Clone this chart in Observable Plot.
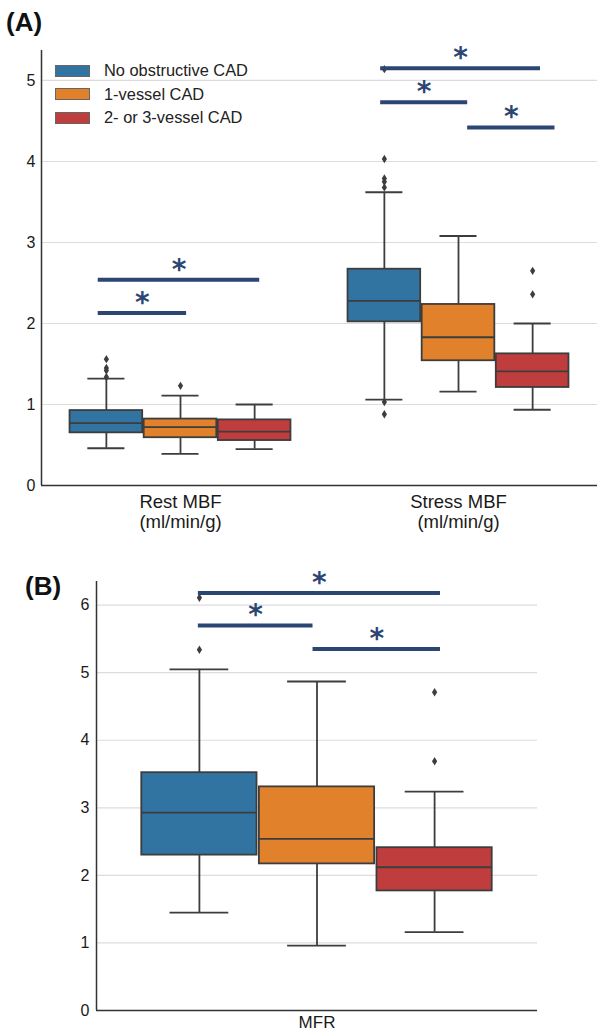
<!DOCTYPE html>
<html><head><meta charset="utf-8">
<script src="https://cdn.jsdelivr.net/npm/d3@7"></script>
<script src="https://cdn.jsdelivr.net/npm/@observablehq/plot@0.6"></script>
<style>
body{margin:0;background:#fff;font-family:"Liberation Sans",Arial,sans-serif;}
#wrap{position:relative;width:597px;height:1031px;overflow:hidden;background:#fff;}
.panel{position:absolute;left:0;}
.panel svg{overflow:visible;}
.tag{position:absolute;font-weight:bold;font-size:26px;line-height:26px;color:#111;}
.legend{position:absolute;left:55px;top:59px;font-size:16.4px;color:#222;}
.legend .row{display:flex;align-items:center;height:23.5px;}
.legend .sw{width:35px;height:12px;border:1px solid #666;box-sizing:border-box;margin-right:14px;}
</style></head>
<body><div id="wrap"></div>
<script>
// ---- data ----
const groups = ["No obstructive CAD", "1-vessel CAD", "2- or 3-vessel CAD"];
const groupColors = ["#3274a1", "#e1812c", "#c03d3e"];

const categoriesA = ["Rest MBF\n(ml/min/g)", "Stress MBF\n(ml/min/g)"];
const yTicksA = [0, 1, 2, 3, 4, 5];

const restQ1 = [0.65, 0.59, 0.555];
const restMedian = [0.77, 0.72, 0.665];
const restQ3 = [0.925, 0.82, 0.81];
const restLow = [0.46, 0.39, 0.45];
const restHigh = [1.32, 1.11, 1.0];
const restOutliers = [[1.34, 1.42, 1.45, 1.56], [1.23], []];

const stressQ1 = [2.02, 1.54, 1.21];
const stressMedian = [2.28, 1.83, 1.41];
const stressQ3 = [2.67, 2.235, 1.625];
const stressLow = [1.06, 1.16, 0.935];
const stressHigh = [3.62, 3.08, 2.0];
const stressOutliers = [[5.14, 4.03, 3.79, 3.75, 3.68, 1.03, 0.88], [], [2.65, 2.36]];

const categoriesB = ["MFR"];
const yTicksB = [0, 1, 2, 3, 4, 5, 6];
const mfrQ1 = [2.30, 2.17, 1.77];
const mfrMedian = [2.93, 2.54, 2.12];
const mfrQ3 = [3.52, 3.31, 2.41];
const mfrLow = [1.45, 0.96, 1.16];
const mfrHigh = [5.05, 4.87, 3.24];
const mfrOutliers = [[5.34, 6.11], [], [3.69, 4.71]];

// significance brackets (x in category units, y in value units)
const sigA_x1 = [-0.296, -0.296, 0.72, 0.72, 1.033];
const sigA_x2 = [0.022, 0.285, 1.295, 1.033, 1.347];
const sigA_y = [2.13, 2.54, 5.15, 4.73, 4.42];
const sigB_x1 = [-0.269, -0.269, -0.009];
const sigB_x2 = [0.280, -0.009, 0.280];
const sigB_y = [6.18, 5.70, 5.35];
const sigLabel = "*";

// ---- helpers ----
const BOXW = 0.8 / 3;
const edge = "#3d3d3d";
const sigColor = "#2b4672";
const font = "'Liberation Sans', Arial, sans-serif";

function buildBoxes(catIndex, q1, med, q3, lo, hi, outs) {
  const rows = [], pts = [];
  groups.forEach((g, i) => {
    const x = catIndex + (i - 1) * BOXW;
    rows.push({x, q1: q1[i], med: med[i], q3: q3[i], lo: lo[i], hi: hi[i], color: groupColors[i]});
    outs[i].forEach(v => pts.push({x, y: v}));
  });
  return {rows, pts};
}
function sigRows(x1, x2, y) { return y.map((v, i) => ({x1: x1[i], x2: x2[i], y: v})); }

const thinDiamond = {
  draw(ctx, size) {
    const r = Math.sqrt(size / Math.PI), w = r * 0.62;
    ctx.moveTo(0, -r); ctx.lineTo(w, 0); ctx.lineTo(0, r); ctx.lineTo(-w, 0); ctx.closePath();
  }
};

function boxMarks(rows, pts) {
  const hw = BOXW * 0.49, cw = BOXW * 0.25, sw = 1.8;
  return [
    Plot.ruleX(rows, {x: "x", y1: "lo", y2: "hi", stroke: edge, strokeWidth: sw}),
    Plot.ruleY(rows, {y: "lo", x1: d => d.x - cw, x2: d => d.x + cw, stroke: edge, strokeWidth: sw}),
    Plot.ruleY(rows, {y: "hi", x1: d => d.x - cw, x2: d => d.x + cw, stroke: edge, strokeWidth: sw}),
    Plot.rect(rows, {x1: d => d.x - hw, x2: d => d.x + hw, y1: "q1", y2: "q3", fill: "color", stroke: edge, strokeWidth: sw}),
    Plot.ruleY(rows, {y: "med", x1: d => d.x - hw, x2: d => d.x + hw, stroke: edge, strokeWidth: sw}),
    Plot.dot(pts, {x: "x", y: "y", symbol: thinDiamond, r: 4.2, fill: edge, stroke: "none"})
  ];
}
function sigMarks(sig) {
  return [
    Plot.ruleY(sig, {y: "y", x1: "x1", x2: "x2", stroke: sigColor, strokeWidth: 4}),
    Plot.text(sig, {x: d => (d.x1 + d.x2) / 2, y: "y", text: () => sigLabel, dy: -10, fontSize: 28,
      fontWeight: "bold", fill: sigColor, fontFamily: "'DejaVu Sans', sans-serif", lineAnchor: "middle"})
  ];
}
// category labels drawn as text through the x scale, anchored under the frame
function xLabels(cats, size, pad) {
  return Plot.text(cats, {x: (d, i) => i, frameAnchor: "bottom", lineAnchor: "top", dy: pad,
    text: d => d, fontSize: size, lineHeight: 1.08, fill: "#1a1a1a", fontFamily: font});
}
function yLabels(ticks, pad) {
  return Plot.text(ticks, {y: d => d, frameAnchor: "left", textAnchor: "end", dx: -pad,
    text: d => String(d), fontSize: 16, fill: "#1a1a1a", fontFamily: font});
}

const wrap = document.getElementById("wrap");

// ---- panel A ----
const A1 = buildBoxes(0, restQ1, restMedian, restQ3, restLow, restHigh, restOutliers);
const A2 = buildBoxes(1, stressQ1, stressMedian, stressQ3, stressLow, stressHigh, stressOutliers);
const plotA = Plot.plot({
  width: 597, height: 545, marginLeft: 41, marginRight: 0, marginTop: 50, marginBottom: 60,
  x: {domain: [-0.5, 1.5], axis: null},
  y: {domain: [0, 5.37], axis: null},
  style: {fontFamily: font, background: "transparent", color: "#1a1a1a", fontSize: "16px"},
  marks: [
    Plot.ruleY(yTicksA.slice(1), {stroke: "#dcdcdc", strokeWidth: 1.2}),
    yLabels(yTicksA, 6),
    xLabels(categoriesA, 18.5, 8),
    ...boxMarks([...A1.rows, ...A2.rows], [...A1.pts, ...A2.pts]),
    Plot.ruleX([-0.5], {stroke: "#333", strokeWidth: 1.5}),
    Plot.ruleY([0], {stroke: "#333", strokeWidth: 1.5}),
    ...sigMarks(sigRows(sigA_x1, sigA_x2, sigA_y))
  ]
});
const pa = document.createElement("div"); pa.className = "panel"; pa.style.top = "0px";
pa.appendChild(plotA); wrap.appendChild(pa);

// ---- panel B ----
const B1 = buildBoxes(0, mfrQ1, mfrMedian, mfrQ3, mfrLow, mfrHigh, mfrOutliers);
const plotB = Plot.plot({
  width: 597, height: 486, marginLeft: 96, marginRight: 60, marginTop: 36, marginBottom: 21,
  x: {domain: [-0.5, 0.5], axis: null},
  y: {domain: [0, 6.35], axis: null},
  style: {fontFamily: font, background: "transparent", color: "#1a1a1a", fontSize: "16px"},
  marks: [
    Plot.ruleY(yTicksB.slice(1), {stroke: "#dcdcdc", strokeWidth: 1.2}),
    yLabels(yTicksB, 7),
    xLabels(categoriesB, 17, 4),
    ...boxMarks(B1.rows, B1.pts),
    Plot.ruleX([-0.5], {stroke: "#333", strokeWidth: 1.5}),
    Plot.ruleY([0], {stroke: "#333", strokeWidth: 1.5}),
    ...sigMarks(sigRows(sigB_x1, sigB_x2, sigB_y))
  ]
});
const pb = document.createElement("div"); pb.className = "panel"; pb.style.top = "545px";
pb.appendChild(plotB); wrap.appendChild(pb);

// ---- tags & legend ----
function tag(text, left, top) {
  const t = document.createElement("div"); t.className = "tag"; t.textContent = text;
  t.style.left = left + "px"; t.style.top = top + "px"; wrap.appendChild(t);
}
tag("(A)", 6, 9);
tag("(B)", 25, 573);

const lg = document.createElement("div"); lg.className = "legend";
groups.forEach((g, i) => {
  const row = document.createElement("div"); row.className = "row";
  const sw = document.createElement("div"); sw.className = "sw"; sw.style.background = groupColors[i];
  const lab = document.createElement("span"); lab.textContent = g;
  row.appendChild(sw); row.appendChild(lab); lg.appendChild(row);
});
wrap.appendChild(lg);
</script>
</body></html>
